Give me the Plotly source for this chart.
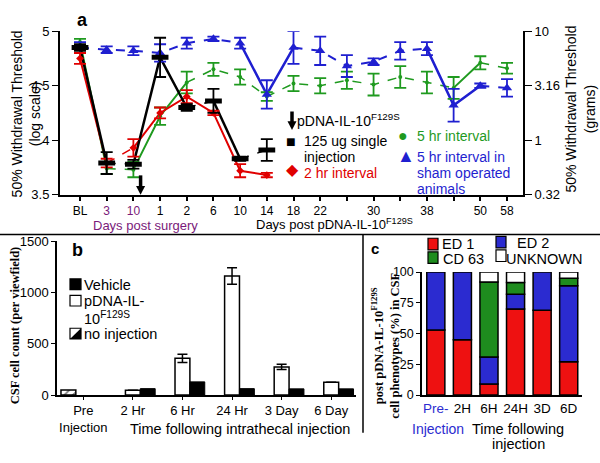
import plotly.graph_objects as go

W, H = 600, 463
def px(x): return x / W
def py(y): return 1 - y / H

FONT = "Liberation Sans, Arial, sans-serif"
SERIF = "Liberation Serif, Times New Roman, serif"
PURPLE = "#7a1a7a"
A_RED, A_GREEN, A_BLUE = "#e00000", "#1f9a1f", "#1f1fd0"

# ---------------- Panel a data ----------------
a_tickvals = [0, 1, 2, 3, 4, 5, 6, 7, 8, 9, 11, 13, 15, 16]
a_ticklabels = ["BL", "3", "10", "1", "2", "6", "10", "14", "18", "22", "30", "38", "50", "58"]
a_surgery_labels = [1, 2]  # positions whose labels are purple (days post surgery)

black_x = [0, 1, 2, 3, 4, 5, 6, 7]
black_y = [4.85, 3.79, 3.78, 4.76, 4.30, 4.36, 3.83, 3.91]
black_err = [0.03, 0.10, 0.04, 0.18, 0.03, 0.11, 0.02, 0.10]
black_dash = ["solid", "dash", "solid", "solid", "dash", "solid", "dash"]

red_x = [0, 1, 2, 3, 4, 5, 6, 7]
red_y = [4.75, 3.79, 3.93, 4.25, 4.40, 4.25, 3.72, 3.68]
red_err = [0.05, 0.04, 0.08, 0.05, 0.06, 0.02, 0.06, 0.02]
red_dash = ["solid", "dash", "solid", "solid", "solid", "solid", "solid"]

green_x = list(range(17))
green_y = [4.90, 3.74, 3.73, 4.22, 4.53, 4.65, 4.58, 4.40, 4.52, 4.50, 4.55, 4.51, 4.58, 4.53, 4.48, 4.71, 4.66]
green_err = [0.03, 0.05, 0.07, 0.08, 0.10, 0.06, 0.07, 0.04, 0.07, 0.07, 0.08, 0.10, 0.10, 0.10, 0.10, 0.06, 0.05]
green_dash = ["solid", "dash", "solid", "solid", "dash", "dash", "dash", "dash", "dash", "dash",
              "dash", "dash", "dash", "dash", "solid", "dash"]

blue_x = list(range(17))
blue_y = [4.85, 4.83, 4.82, 4.80, 4.89, 4.93, 4.89, 4.42, 4.85, 4.82, 4.68, 4.72, 4.82, 4.84, 4.32, 4.50, 4.48]
blue_err = [0.05, 0.03, 0.04, 0.08, 0.05, 0.02, 0.05, 0.13, 0.15, 0.13, 0.10, 0.03, 0.08, 0.06, 0.15, 0.02, 0.08]
blue_dash = ["dash", "dash", "dash", "dash", "dash", "dash", "solid", "solid", "dash", "dash",
             "dash", "dash", "dash", "solid", "solid", "dash"]

right_tickvals = [0.32, 1, 3.16, 10]
right_ticktext = ["0.32", "1", "3.16", "10"]

injection_marker_x = 2.27  # arrow position on the day axis

# ---------------- Panel b data ----------------
b_cats = ["Pre<br>Injection", "2 Hr", "6 Hr", "24 Hr", "3 Day", "6 Day"]
b_noinj = [48, None, None, None, None, None]
b_pdna = [None, 47, 358, 1160, 274, 125]
b_pdna_err = [0, 0, 40, 80, 25, 0]
b_vehicle = [None, 62, 128, 62, 60, 60]

# ---------------- Panel c data ----------------
c_cats = ["Pre", "2H", "6H", "24H", "3D", "6D"]
c_ticktext = ["<span style='color:#2b2bd0'>Pre-</span>", "2H", "6H", "24H", "3D", "6D"]
c_ed1 = [53, 45, 9, 70, 69, 27]
c_ed2 = [47, 55, 22, 12, 31, 62]
c_cd63 = [0, 0, 61, 9.5, 0, 6]
c_unknown = [0, 0, 8, 8.5, 0, 5]
C_RED, C_BLUE, C_GREEN = "#ee1111", "#2b2bd0", "#1e8c1e"

fig = go.Figure()

def add_runs(xs, ys, dashes, color, width_solid, width_dash):
    i, n = 0, len(dashes)
    while i < n:
        j = i
        while j + 1 < n and dashes[j + 1] == dashes[i]:
            j += 1
        d = dashes[i]
        fig.add_trace(go.Scatter(
            x=xs[i:j + 2], y=ys[i:j + 2], mode="lines", showlegend=False, hoverinfo="skip",
            line=dict(color=color, dash=d, width=width_solid if d == "solid" else width_dash),
            xaxis="x", yaxis="y"))
        i = j + 1

add_runs(green_x, green_y, green_dash, A_GREEN, 2, 1.5)
add_runs(blue_x, blue_y, blue_dash, A_BLUE, 2.5, 2)
add_runs(red_x, red_y, red_dash, A_RED, 2, 1.5)
add_runs(black_x, black_y, black_dash, "black", 2.5, 1.5)

def add_pts(xs, ys, errs, color, symbol, size, lw=0):
    fig.add_trace(go.Scatter(
        x=xs, y=ys, mode="markers", showlegend=False,
        marker=dict(color=color, symbol=symbol, size=size, line=dict(color=color, width=lw)),
        error_y=dict(type="data", array=errs, visible=True, color=color, thickness=1.8, width=6),
        xaxis="x", yaxis="y"))

add_pts(green_x, green_y, green_err, A_GREEN, "circle", 4)
add_pts(blue_x, blue_y, blue_err, A_BLUE, "triangle-up", 9)
add_pts(red_x, red_y, red_err, A_RED, "diamond", 6)
add_pts(black_x, black_y, black_err, "black", "line-ew-open", 12, lw=5)

# invisible trace so the right-hand log axis is drawn
fig.add_trace(go.Scatter(x=[0], y=[1], mode="markers", marker=dict(opacity=0), showlegend=False,
                         hoverinfo="skip", xaxis="x", yaxis="y2"))

# ---- panel b bars ----
fig.add_trace(go.Bar(x=b_cats, y=b_noinj, offset=-0.45, width=0.3, showlegend=False,
                     marker=dict(color="white", line=dict(color="black", width=1.5),
                                 pattern=dict(shape="/", fgcolor="black", bgcolor="white", size=6, solidity=0.3)),
                     xaxis="x2", yaxis="y3"))
fig.add_trace(go.Bar(x=b_cats, y=b_pdna, offset=-0.15, width=0.3, showlegend=False,
                     marker=dict(color="white", line=dict(color="black", width=1.5)),
                     error_y=dict(type="data", array=b_pdna_err, visible=True, color="black", thickness=1.5, width=5),
                     xaxis="x2", yaxis="y3"))
fig.add_trace(go.Bar(x=b_cats, y=b_vehicle, offset=0.15, width=0.3, showlegend=False,
                     marker=dict(color="black", line=dict(color="black", width=1)),
                     xaxis="x2", yaxis="y3"))

# ---- panel c stacked bars (explicit cumulative base) ----
base = [0] * len(c_cats)
for vals, col in [(c_ed1, C_RED), (c_ed2, C_BLUE), (c_cd63, C_GREEN), (c_unknown, "white")]:
    yv = [v if v else None for v in vals]
    fig.add_trace(go.Bar(x=c_cats, y=yv, base=list(base), offset=-0.34, width=0.68, showlegend=False,
                         marker=dict(color=col, line=dict(color="black", width=1.5)),
                         xaxis="x3", yaxis="y4"))
    base = [b + v for b, v in zip(base, vals)]

a_ticktext = [f"<span style='color:{PURPLE}'>{t}</span>" if v in a_surgery_labels else t
              for v, t in zip(a_tickvals, a_ticklabels)]

axis_common = dict(showgrid=False, zeroline=False, showline=True, linecolor="black",
                   ticks="outside", tickcolor="black", color="black")

def dom(lo, hi):
    return [px(lo), px(hi)]
def ydom(top, bottom):
    return [py(bottom), py(top)]

fig.update_layout(
    width=W, height=H, autosize=False,
    margin=dict(l=0, r=0, t=0, b=0),
    paper_bgcolor="white", plot_bgcolor="rgba(0,0,0,0)",
    font=dict(family=FONT, size=12, color="black"),
    barmode="group", showlegend=False,
    xaxis=dict(domain=dom(60, 523), range=[-0.75, 16.6], anchor="y",
               tickvals=a_tickvals, ticktext=a_ticktext, linewidth=2, ticklen=4, tickwidth=2,
               minor=dict(ticks="outside", tick0=0, dtick=1, ticklen=4, tickwidth=2, tickcolor="black"),
               tickfont=dict(size=12), **axis_common),
    yaxis=dict(domain=ydom(25, 194), range=[3.5, 5], anchor="x",
               tickvals=[3.5, 4, 4.5, 5], ticktext=["3.5", "4", "4.5", "5"], linewidth=2, ticklen=6,
               tickfont=dict(size=13), **axis_common),
    yaxis2=dict(overlaying="y", side="right", anchor="x", type="log", range=[-0.5, 1],
                tickvals=right_tickvals, ticktext=right_ticktext, linewidth=2, ticklen=7,
                tickfont=dict(size=13), **axis_common),
    xaxis2=dict(domain=dom(57, 356), range=[-0.53, 5.5], anchor="y3", type="category",
                linewidth=1.5, ticklen=3, tickfont=dict(size=13), **axis_common),
    yaxis3=dict(domain=ydom(242, 401), range=[0, 1500], anchor="x2",
                tickvals=[0, 500, 1000, 1500], linewidth=1.5, ticklen=4,
                tickfont=dict(size=13), **axis_common),
    xaxis3=dict(domain=dom(422, 582), range=[-0.52, 5.5], anchor="y4", type="category",
                tickvals=c_cats, ticktext=c_ticktext, linewidth=1.5, ticklen=0,
                tickfont=dict(size=13.5), **axis_common),
    yaxis4=dict(domain=ydom(274, 401), range=[0, 100], anchor="x3",
                tickvals=[0, 25, 50, 75, 100], linewidth=1.5, ticklen=4,
                tickfont=dict(size=12.5), **axis_common),
)

ann = []
def txt(x, y, text, size=12.5, color="black", xanchor="left", family=FONT, angle=0, bold=False,
        align="left", yanchor="middle"):
    if bold:
        text = f"<b>{text}</b>"
    ann.append(dict(x=px(x), y=py(y), xref="paper", yref="paper", text=text, showarrow=False,
                    xanchor=xanchor, yanchor=yanchor, textangle=angle, align=align, borderpad=0,
                    font=dict(size=size, color=color, family=family)))

SUP = "<sup>F129S</sup>"
# Panel a texts
txt(82, 13, "a", size=18, xanchor="center", bold=True)
txt(26, 111, "50% Withdrawal Threshold<br>(log scale)", size=14, xanchor="center", angle=-90, align="center")
txt(580, 106, "50% Withdrawal Threshold<br>(grams)", size=14, xanchor="center", angle=-90, align="center")
txt(145, 217, "Days post surgery", size=13, color=PURPLE, xanchor="center", yanchor="top")
txt(334, 215, "Days post pDNA-IL-10" + SUP, size=13, xanchor="center", yanchor="top")
txt(296, 117, "pDNA-IL-10" + SUP, size=14)
txt(285, 139, "■", size=16)
txt(303, 139, "125 ug single", size=14)
txt(303, 155, "injection", size=14)
txt(285, 168, "◆", size=16, color=A_RED)
txt(303, 172, "2 hr interval", size=14, color=A_RED)
txt(397, 133, "●", size=16, color=A_GREEN)
txt(416, 133, "5 hr interval", size=14, color=A_GREEN)
txt(396, 154, "▲", size=18, color=A_BLUE)
txt(416, 155, "5 hr interval in", size=14, color=A_BLUE)
txt(416, 172, "sham operated", size=14, color=A_BLUE)
txt(416, 188, "animals", size=14, color=A_BLUE)

# Panel b texts
txt(77, 251, "b", size=18, xanchor="center", bold=True)
txt(15, 329, "CSF cell count (per viewfield)", size=12.5, xanchor="center", angle=-90, family=SERIF, bold=True)
txt(83, 287, "Vehicle", size=14.5)
txt(83, 304, "pDNA-IL-", size=14.5)
txt(83, 321, "10" + SUP, size=14.5)
txt(83, 338, "no injection", size=14.5)
txt(240, 436, "Time following intrathecal injection", size=14.5, xanchor="center")

# Panel c texts
txt(375, 250, "c", size=15, xanchor="center", bold=True)
txt(386, 350, "post pDNA-IL-10" + SUP + "<br>cell phenotypes (%) in CSF", size=12.5, xanchor="center",
    angle=-90, family=SERIF, bold=True, align="center")
txt(441, 245, "ED 1", size=14.5)
txt(516, 244, "ED 2", size=14.5)
txt(442, 260, "CD 63", size=14.5)
txt(505, 260, "UNKNOWN", size=14.5)
txt(438, 436, "Injection", size=14, color="#2b2bd0", xanchor="center")
txt(518, 436, "Time following", size=14.5, xanchor="center")
txt(518, 452, "injection", size=14.5, xanchor="center")
fig.update_layout(annotations=ann)

shapes = []
def rect(x0, y0, x1, y1, fill, lw=1.2):
    shapes.append(dict(type="rect", xref="paper", yref="paper", x0=px(x0), x1=px(x1), y0=py(y1), y1=py(y0),
                       fillcolor=fill, line=dict(color="black", width=lw)))
def line(x0, y0, x1, y1, w=1.5):
    shapes.append(dict(type="line", xref="paper", yref="paper", x0=px(x0), x1=px(x1), y0=py(y0), y1=py(y1),
                       line=dict(color="black", width=w)))
def down_arrow(xv, xref, half_w, y_top, y_tip):
    shapes.append(dict(type="line", xref=xref, yref="paper", x0=xv, x1=xv, y0=py(y_top), y1=py(y_tip - 7),
                       line=dict(color="black", width=3.5)))
    shapes.append(dict(type="path", xref=xref, yref="paper",
                       path=f"M {xv - half_w},{py(y_tip - 9)} L {xv + half_w},{py(y_tip - 9)} L {xv},{py(y_tip)} Z",
                       fillcolor="black", line=dict(width=0)))

# dividers
line(0, 235, 600, 235, 1.5)
line(363, 235, 363, 440, 1.5)
# arrows (injection time + legend)
down_arrow(injection_marker_x, "x", 0.17, 174, 194)
down_arrow(px(292), "paper", 4.5 / W, 108, 127)
# panel b legend boxes
rect(70, 281, 81, 292, "black")
rect(70, 298, 81, 309, "white")
rect(70, 332, 81, 343, "white")
shapes.append(dict(type="path", xref="paper", yref="paper",
                   path=f"M {px(70)},{py(343)} L {px(81)},{py(332)} L {px(81)},{py(343)} Z",
                   fillcolor="black", line=dict(width=0)))
# panel c legend boxes
rect(428, 239, 438, 251, C_RED)
rect(496, 237, 506, 249, C_BLUE)
rect(428, 253, 438, 265, C_GREEN)
rect(496, 251, 506, 263, "white")
fig.update_layout(shapes=shapes)

# remove the default page margin so the 600x463 figure fills the window exactly
fig.write_html("out.html", config={"displayModeBar": False},
               post_script="document.body.style.margin='0';document.body.style.overflow='hidden';")
